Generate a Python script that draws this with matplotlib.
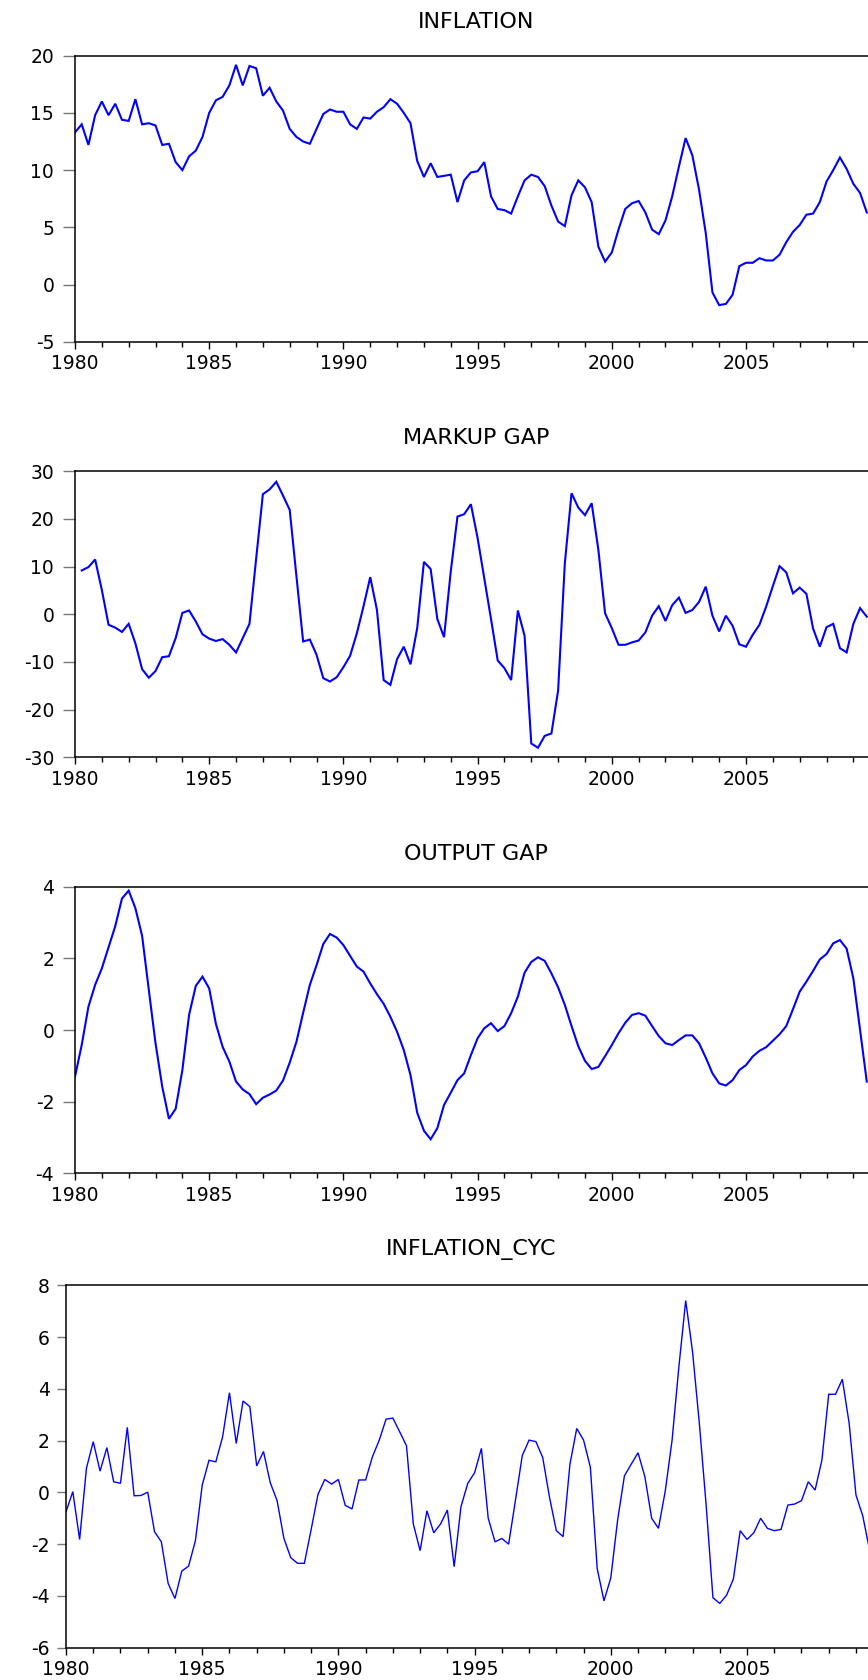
import numpy as np
import pandas as pd
import matplotlib
matplotlib.use("Agg")
import matplotlib.pyplot as plt
from matplotlib.ticker import MultipleLocator

plt.rcParams['font.family'] = ['DejaVu Sans']
plt.rcParams['axes.unicode_minus'] = False

# quarterly data
inflation = [
    13.3, 14.0, 12.2, 14.8,  16.0, 14.8, 15.8, 14.4,  14.3, 16.2, 14.0, 14.1,
    13.9, 12.2, 12.3, 10.7,  10.0, 11.2, 11.7, 12.9,  15.0, 16.1, 16.4, 17.4,
    19.2, 17.4, 19.1, 18.9,  16.5, 17.2, 16.0, 15.2,  13.6, 12.9, 12.5, 12.3,
    13.6, 14.9, 15.3, 15.1,  15.1, 14.0, 13.6, 14.6,  14.5, 15.1, 15.5, 16.2,
    15.8, 15.0, 14.1, 10.8,  9.4, 10.6, 9.4, 9.5,     9.6, 7.2, 9.1, 9.8,
    9.9, 10.7, 7.7, 6.6,     6.5, 6.2, 7.7, 9.1,      9.6, 9.4, 8.6, 6.9,
    5.5, 5.1, 7.8, 9.1,      8.5, 7.2, 3.3, 2.0,      2.8, 4.8, 6.6, 7.1,
    7.3, 6.3, 4.8, 4.4,      5.6, 7.7, 10.3, 12.8,    11.3, 8.3, 4.5, -0.7,
    -1.8, -1.7, -0.9, 1.6,   1.9, 1.9, 2.3, 2.1,      2.1, 2.6, 3.7, 4.6,
    5.2, 6.1, 6.2, 7.2,      9.0, 10.0, 11.1, 10.1,   8.8, 8.0, 6.3,
]

# markup gap starts in 1980Q2
markup_gap = [
    9.2, 9.9, 11.5,
    5.1, -2.2, -2.8, -3.7,    -2.0, -6.1, -11.5, -13.3, -11.9, -9.0, -8.8, -5.0,
    0.3, 0.8, -1.5, -4.2,     -5.1, -5.6, -5.2, -6.4,   -8.0, -5.0, -2.0, 11.7,
    25.2, 26.2, 27.8, 24.9,   21.9, 8.0, -5.7, -5.3,    -8.5, -13.4, -14.1, -13.2,
    -11.1, -8.7, -4.0, 1.7,   7.8, 0.9, -13.8, -14.8,   -9.4, -6.8, -10.5, -2.9,
    11.0, 9.5, -1.0, -4.8,    9.0, 20.5, 21.0, 23.1,    16.0, 7.5, -1.0, -9.7,
    -11.3, -13.8, 0.8, -4.5,  -27.1, -28.0, -25.5, -25.0, -16.0, 10.7, 25.4, 22.4,
    20.8, 23.3, 13.5, 0.2,    -2.9, -6.4, -6.4, -5.9,   -5.5, -3.8, -0.3, 1.7,
    -1.4, 1.9, 3.5, 0.3,      0.9, 2.6, 5.8, -0.3,      -3.6, -0.3, -2.4, -6.3,
    -6.8, -4.3, -2.2, 1.6,    5.9, 10.1, 8.8, 4.4,      5.6, 4.3, -3.0, -6.8,
    -2.7, -2.0, -7.1, -8.0,   -2.0, 1.3, -0.5,
]

output_gap = [
    -1.30, -0.42, 0.65, 1.26,  1.72, 2.31, 2.90, 3.67,  3.89, 3.40, 2.63, 1.12,
    -0.37, -1.58, -2.48, -2.20, -1.12, 0.42, 1.23, 1.49, 1.16, 0.17, -0.47, -0.88,
    -1.44, -1.66, -1.79, -2.07, -1.89, -1.80, -1.69, -1.41, -0.91, -0.33, 0.48, 1.26,
    1.81, 2.40, 2.68, 2.58,    2.37, 2.07, 1.77, 1.63,  1.30, 1.00, 0.73, 0.37,
    -0.05, -0.56, -1.26, -2.31, -2.81, -3.05, -2.74, -2.09, -1.75, -1.40, -1.21, -0.70,
    -0.23, 0.05, 0.19, -0.03,  0.11, 0.47, 0.93, 1.60,  1.90, 2.03, 1.93, 1.58,
    1.19, 0.70, 0.11, -0.45,   -0.86, -1.09, -1.03, -0.73, -0.42, -0.09, 0.20, 0.42,
    0.47, 0.40, 0.11, -0.17,   -0.37, -0.42, -0.28, -0.15, -0.15, -0.37, -0.77, -1.21,
    -1.49, -1.55, -1.40, -1.12, -0.98, -0.74, -0.58, -0.48, -0.30, -0.12, 0.11, 0.58,
    1.07, 1.35, 1.65, 1.97,    2.12, 2.42, 2.51, 2.27,  1.44, 0.00, -1.44,
]

inflation_cyc = [
    -0.75, 0.03, -1.82, 0.93,  1.96, 0.82, 1.73, 0.41,  0.35, 2.51, -0.13, -0.12,
    0.01, -1.52, -1.91, -3.52, -4.10, -3.04, -2.85, -1.87, 0.28, 1.24, 1.18, 2.15,
    3.85, 1.89, 3.53, 3.31,    1.02, 1.58, 0.37, -0.32, -1.78, -2.52, -2.74, -2.74,
    -1.43, -0.08, 0.50, 0.32,  0.50, -0.50, -0.64, 0.48, 0.48, 1.38, 2.02, 2.83,
    2.87, 2.34, 1.80, -1.22,   -2.25, -0.71, -1.56, -1.22, -0.68, -2.87, -0.55, 0.35,
    0.76, 1.70, -1.00, -1.91,  -1.78, -2.00, -0.30, 1.42, 2.02, 1.96, 1.35, -0.19,
    -1.48, -1.71, 1.09, 2.47,  2.02, 0.97, -2.94, -4.19, -3.30, -1.07, 0.64, 1.09,
    1.53, 0.61, -1.00, -1.39,  0.06, 2.02, 4.86, 7.41,  5.44, 2.67, -0.49, -4.07,
    -4.29, -3.97, -3.35, -1.48, -1.82, -1.56, -1.00, -1.39, -1.48, -1.43, -0.49, -0.45,
    -0.32, 0.41, 0.09, 1.25,   3.79, 3.79, 4.37, 2.67,  -0.10, -0.91, -2.23,
]


def quarters(start, end):
    p = pd.period_range(start, end, freq='Q')
    return np.asarray(p.year + (p.quarter - 1) / 4.0, dtype=float)


W, H = 868, 1680
fig = plt.figure(figsize=(W / 100, H / 100), dpi=100, facecolor='white')

# (title, x, y, ylim, ystep, [left, top, right, bottom] in px, line width, title pad)
panels = [
    ("INFLATION", quarters('1980Q1', '2009Q3'), inflation, (-5, 20), 5,
     (75, 55.7, 877, 341.7), 1.5, 20.0),
    ("MARKUP GAP", quarters('1980Q2', '2009Q3'), markup_gap, (-30, 30), 10,
     (75, 471.3, 877, 757.3), 1.5, 19.5),
    ("OUTPUT GAP", quarters('1980Q1', '2009Q3'), output_gap, (-4, 4), 2,
     (75, 886.7, 877, 1173.3), 1.5, 19.0),
    ("INFLATION_CYC", quarters('1980Q1', '2009Q3'), inflation_cyc, (-6, 8), 2,
     (66, 1285.3, 876, 1647.7), 1.0, 22.0),
]

for title, x, y, ylim, ystep, box, lw, tpad in panels:
    l, t, r, b = box
    ax = fig.add_axes([l / W, 1 - b / H, (r - l) / W, (b - t) / H])
    ax.plot(x, y, color='#0000ff', lw=lw, solid_joinstyle='miter')
    px_per_year = 134.2 / 5 if l == 75 else 136.2 / 5
    ax.set_xlim(1980, 1980 + (r - l) / px_per_year)
    ax.set_ylim(*ylim)
    ax.xaxis.set_major_locator(MultipleLocator(5))
    ax.xaxis.set_minor_locator(MultipleLocator(1))
    ax.yaxis.set_major_locator(MultipleLocator(ystep))
    ax.xaxis.set_major_formatter(plt.FuncFormatter(lambda v, p: f"{int(round(v))}"))
    ax.tick_params(axis='x', which='major', direction='out', length=5, width=1.0,
                   color='black', pad=4, labelsize=13.5)
    ax.tick_params(axis='x', which='minor', direction='out', length=3.4, width=1.0,
                   color='black')
    ax.tick_params(axis='y', which='major', direction='out', length=9 if l == 75 else 6.7,
                   width=1.0, color='#777777', pad=6 if l == 75 else 5, labelsize=13.5)
    for s in ax.spines.values():
        s.set_linewidth(1.1)
        s.set_color('black')
    ax.set_title(title, fontsize=16, pad=tpad)

fig.savefig("out.png", dpi=100, facecolor='white')
